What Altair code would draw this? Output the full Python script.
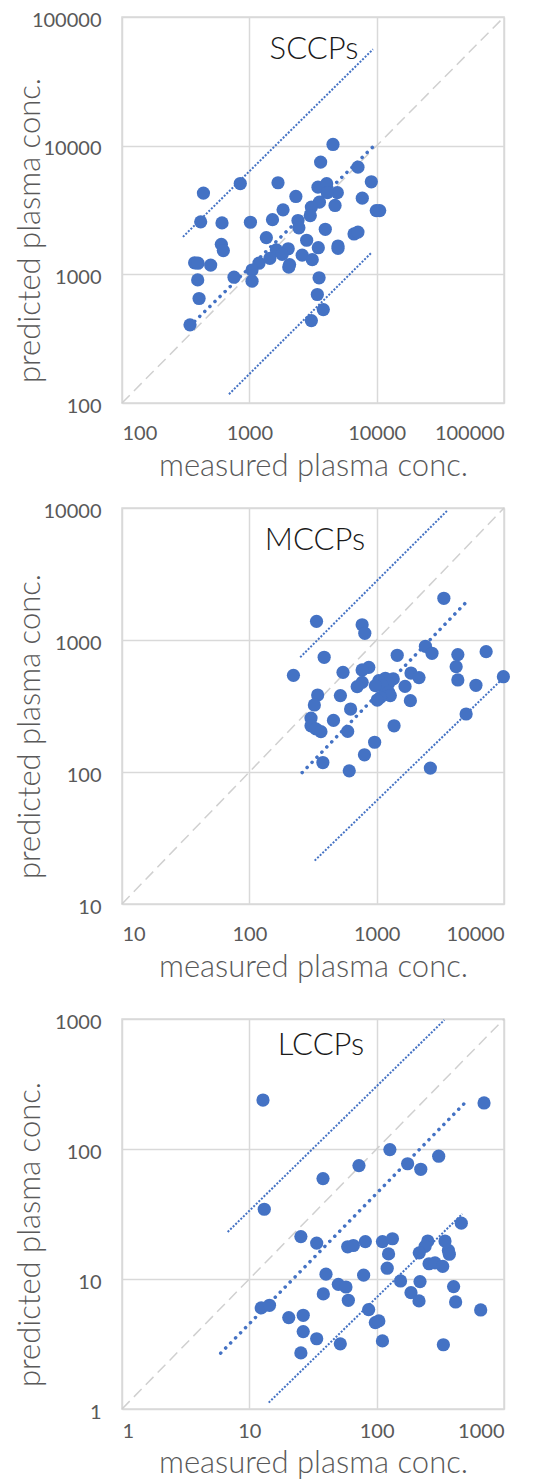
import altair as alt
import pandas as pd

BLUE = "#4472C4"
GRID = "#D9D9D9"
TXT = "#595959"
FONT = "Lato"

# ---------------- SCCPs ----------------
sccp_meas = [4540, 3630, 7130, 9080, 1680, 849, 436, 3460, 4050, 4910, 4100, 2320, 7710, 4710,
             3550, 3070, 9930, 10560, 1840, 3010, 415, 610, 1020, 1520, 2410, 2450, 3950, 1360,
             2820, 6640, 7130, 603, 625, 3480, 4970, 4970, 2020, 1630, 1810, 2600, 3120, 1450,
             1190, 2070, 2040, 1050, 372, 395, 497, 758, 1050, 393, 3530, 403, 3420, 3810, 3070, 342]
sccp_pred = [10220, 7450, 6810, 5240, 5150, 5080, 4280, 4760, 5060, 4310, 4310, 4030, 3910, 3430,
             3640, 3330, 3130, 3130, 3170, 2860, 2560, 2510, 2540, 2660, 2620, 2300, 2240, 1930,
             1840, 2060, 2130, 1710, 1530, 1610, 1660, 1590, 1580, 1550, 1430, 1410, 1300, 1330,
             1220, 1190, 1140, 1080, 1230, 1220, 1180, 950, 885, 905, 940, 649, 697, 532, 437, 405]
sccp_upper_x = [301, 9350]
sccp_upper_y = [1955, 56100]
sccp_mid_x = [372, 9350]
sccp_mid_y = [431, 9790]
sccp_lower_x = [692, 9180]
sccp_lower_y = [117, 1486]
sccp_diag = [100, 100000]
sccp_ticks = [100, 1000, 10000, 100000]

# ---------------- MCCPs ----------------
mccp_meas = [3370, 337, 769, 807, 2415, 2720, 4340, 7240, 387, 1450, 4210, 867, 769, 544, 222,
             1860, 2150, 9890, 4340, 6020, 1170, 1040, 1350, 1240, 1100, 977, 769, 703, 1670,
             1240, 1280, 1070, 1010, 344, 519, 324, 1840, 624, 305, 458, 305, 333, 365, 592,
             5040, 1370, 964, 802, 378, 609, 2640]
mccp_pred = [2070, 1384, 1305, 1124, 896, 793, 775, 816, 740, 766, 628, 621, 593, 569, 540,
             562, 519, 527, 498, 454, 513, 492, 507, 470, 451, 451, 478, 443, 445,
             402, 379, 368, 351, 383, 379, 322, 347, 300, 256, 246, 224, 212, 202, 203,
             275, 224, 168, 135, 118, 102, 107]
mccp_upper_x = [251, 3580]
mccp_upper_y = [740, 9550]
mccp_mid_x = [260, 5040]
mccp_mid_y = [99, 1930]
mccp_lower_x = [326, 10000]
mccp_lower_y = [21.3, 521]
mccp_diag = [10, 10000]
mccp_ticks = [10, 100, 1000, 10000]

# ---------------- LCCPs ----------------
lccp_meas = [12.8, 697, 127, 307, 175, 72.6, 222, 37.9, 13.1, 462, 25.4, 33.8, 59.2, 65.6, 81.5,
             111, 133, 124, 252, 240, 216, 344, 366, 372, 121, 258, 287, 330, 40, 79, 154, 219,
             50, 57.4, 402, 38.1, 59.9, 186, 215, 417, 12.4, 14.4, 656, 86.5, 20.4, 26.5, 97.6,
             104, 26.5, 33.8, 111, 51.8, 334, 25.4]
lccp_pred = [238, 226, 99, 88, 77, 74.5, 69.8, 59.2, 34.4, 26.9, 21.2, 18.9, 17.7, 18.1, 19.4,
             19.4, 20.4, 15.6, 19.6, 17.8, 15.9, 19.6, 16.6, 15.5, 12.1, 13.1, 13.3, 12.5, 10.9,
             10.7, 9.66, 9.55, 9.1, 8.68, 8.74, 7.68, 6.86, 7.85, 6.78, 6.66, 5.99, 6.28, 5.78,
             5.82, 5.05, 5.26, 4.62, 4.76, 3.94, 3.47, 3.34, 3.17, 3.12, 2.70]
lccp_upper_x = [6.76, 340]
lccp_upper_y = [23.0, 982]
lccp_mid_x = [5.96, 488]
lccp_mid_y = [2.69, 224]
lccp_lower_x = [14.2, 471]
lccp_lower_y = [1.12, 31.7]
lccp_diag = [1, 1000]
lccp_ticks = [1, 10, 100, 1000]

W = 382


def panel(name, meas, pred, ux, uy, mx, my, lx, ly, diag, ticks, h, label_x, label_y,
          xlab_pad, xtitle_pad):
    xs = alt.Scale(type="log", domain=[ticks[0], ticks[-1]], nice=False)
    ys = alt.Scale(type="log", domain=[ticks[0], ticks[-1]], nice=False)
    xax = alt.Axis(values=ticks, format="d", title="measured plasma conc.",
                   labelPadding=xlab_pad, titlePadding=xtitle_pad)
    yax = alt.Axis(values=ticks, format="d", title="predicted plasma conc.",
                   labelPadding=21, labelOffset=3, titleX=-92, titleY=h / 2 + 20,
                   titleAngle=-90, titleAlign="center", titleBaseline="middle")

    def enc(ch):
        return ch.encode(
            x=alt.X("x:Q", scale=xs, axis=xax),
            y=alt.Y("y:Q", scale=ys, axis=yax),
        )

    diag_df = pd.DataFrame({"x": diag, "y": diag})
    d = enc(alt.Chart(diag_df).mark_line(color="#D0D0D0", strokeWidth=1.5, strokeDash=[11, 6]))
    up = enc(alt.Chart(pd.DataFrame({"x": ux, "y": uy})).mark_line(
        color=BLUE, strokeWidth=2, strokeDash=[2, 1.6]))
    lo = enc(alt.Chart(pd.DataFrame({"x": lx, "y": ly})).mark_line(
        color=BLUE, strokeWidth=2, strokeDash=[2, 1.6]))
    mid = enc(alt.Chart(pd.DataFrame({"x": mx, "y": my})).mark_line(
        color=BLUE, strokeWidth=3.5, strokeDash=[0.1, 7], strokeCap="round"))
    pts = enc(alt.Chart(pd.DataFrame({"x": meas, "y": pred})).mark_circle(
        color=BLUE, size=175, opacity=1))
    txt = alt.Chart(pd.DataFrame({"t": [name]})).mark_text(
        font=FONT, fontSize=31, fontWeight=300, color="#1a1a1a", align="center", baseline="middle"
    ).encode(x=alt.value(label_x), y=alt.value(label_y), text="t:N")
    return alt.layer(d, up, lo, mid, pts, txt).properties(width=W, height=h)


p1 = panel("SCCPs", sccp_meas, sccp_pred, sccp_upper_x, sccp_upper_y, sccp_mid_x, sccp_mid_y,
           sccp_lower_x, sccp_lower_y, sccp_diag, sccp_ticks, 386, 192, 33, 20, 8)
p2 = panel("MCCPs", mccp_meas, mccp_pred, mccp_upper_x, mccp_upper_y, mccp_mid_x, mccp_mid_y,
           mccp_lower_x, mccp_lower_y, mccp_diag, mccp_ticks, 396, 193, 33, 20, 8)
p3 = panel("LCCPs", lccp_meas, lccp_pred, lccp_upper_x, lccp_upper_y, lccp_mid_x, lccp_mid_y,
           lccp_lower_x, lccp_lower_y, lccp_diag, lccp_ticks, 390, 199, 27, 12, 7)

chart = alt.vconcat(p1, alt.vconcat(p2, p3, spacing=28), spacing=18).properties(
    padding={"left": 5, "top": 1, "right": 5, "bottom": 0}
).configure_view(
    stroke=GRID, strokeWidth=1.5
).configure_axis(
    grid=True, gridColor=GRID, gridWidth=1.5, domain=False, ticks=False,
    labelFont=FONT, labelFontSize=20, labelColor=TXT,
    titleFont=FONT, titleFontSize=31, titleFontWeight=300, titleColor=TXT
)

chart.save("out.html", embed_options={"renderer": "svg", "actions": False})
